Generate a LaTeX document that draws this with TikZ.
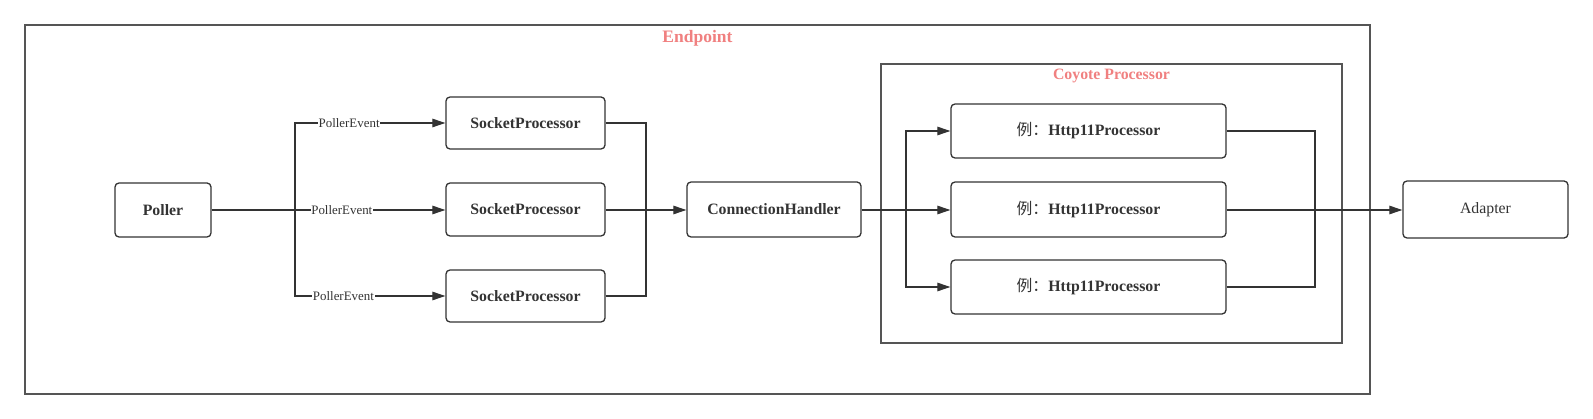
\documentclass[tikz,border=0pt]{standalone}
\usepackage{fontspec}
\setmainfont{Liberation Serif}
\newfontfamily\cjk{Noto Sans CJK SC}
\usetikzlibrary{arrows.meta}
\definecolor{lc}{HTML}{333333}
\definecolor{bc}{HTML}{555555}
\definecolor{tc}{HTML}{F08080}
\begin{document}
\begin{tikzpicture}[x=1pt,y=-1pt,
  box/.style={draw=lc,line width=1.3pt,rounded corners=4pt,inner sep=0pt,font=\fontsize{15.8}{18}\selectfont\bfseries,text=lc},
  frame/.style={draw=bc,line width=1.7pt,inner sep=0pt},
  ttl/.style={text=tc,inner sep=0pt},
  conn/.style={draw=lc,line width=1.15pt},
  arr/.style={conn,-{Triangle[length=13pt,width=8.5pt]}},
  lbl/.style={fill=white,inner sep=0.8pt,font=\fontsize{12.9}{14}\selectfont,text=lc}]
\useasboundingbox (0,0) rectangle (1593,419);
% frames
\node[frame,minimum width=1345pt,minimum height=369pt] (endpoint) at (697.5,209.5) {};
\node[ttl,font=\fontsize{17.5}{20}\selectfont\bfseries] (endpointT) at (697.5,38.5) {Endpoint};
\node[frame,minimum width=461pt,minimum height=279pt] (coyote) at (1111.5,203.5) {};
\node[ttl,font=\fontsize{15.8}{18}\selectfont\bfseries] (coyoteT) at (1111.5,75.5) {Coyote Processor};
% nodes
\node[box,minimum width=96pt,minimum height=54pt] (poller) at (163,210) {Poller};
\node[box,minimum width=159pt,minimum height=52pt] (sp1) at (525.5,123) {SocketProcessor};
\node[box,minimum width=159pt,minimum height=53pt] (sp2) at (525.5,209.5) {SocketProcessor};
\node[box,minimum width=159pt,minimum height=52pt] (sp3) at (525.5,296) {SocketProcessor};
\node[box,minimum width=174pt,minimum height=55pt] (ch) at (774,209.5) {ConnectionHandler};
\node[box,minimum width=275pt,minimum height=54pt] (h1) at (1088.5,131) {{\cjk\mdseries 例：}Http11Processor};
\node[box,minimum width=275pt,minimum height=55pt] (h2) at (1088.5,209.5) {{\cjk\mdseries 例：}Http11Processor};
\node[box,minimum width=275pt,minimum height=54pt] (h3) at (1088.5,287) {{\cjk\mdseries 例：}Http11Processor};
\node[box,minimum width=165pt,minimum height=57pt,font=\fontsize{15.8}{18}\selectfont] (adapter) at (1485.5,209.5) {Adapter};
% junctions
\coordinate (j1) at (295,210);
\coordinate (j2) at (646,210);
\coordinate (j3) at (906,210);
\coordinate (j4) at (1315,210);
% connectors
\draw[arr] (poller.east|-j1) -- node[lbl,pos=0.557] {PollerEvent} (sp2.west|-j1);
\draw[arr] (j1) |- node[lbl,pos=0.68] {PollerEvent} (sp1.west);
\draw[arr] (j1) |- node[lbl,pos=0.661] {PollerEvent} (sp3.west);
\draw[conn] (sp1.east) -| (j2);
\draw[conn] (sp3.east) -| (j2);
\draw[arr] (sp2.east|-j2) -- (ch.west|-j2);
\draw[arr] (ch.east|-j3) -- (h2.west|-j3);
\draw[arr] (j3) |- (h1.west);
\draw[arr] (j3) |- (h3.west);
\draw[conn] (h1.east) -| (j4);
\draw[conn] (h3.east) -| (j4);
\draw[arr] (h2.east|-j4) -- (adapter.west|-j4);
\end{tikzpicture}
\end{document}
